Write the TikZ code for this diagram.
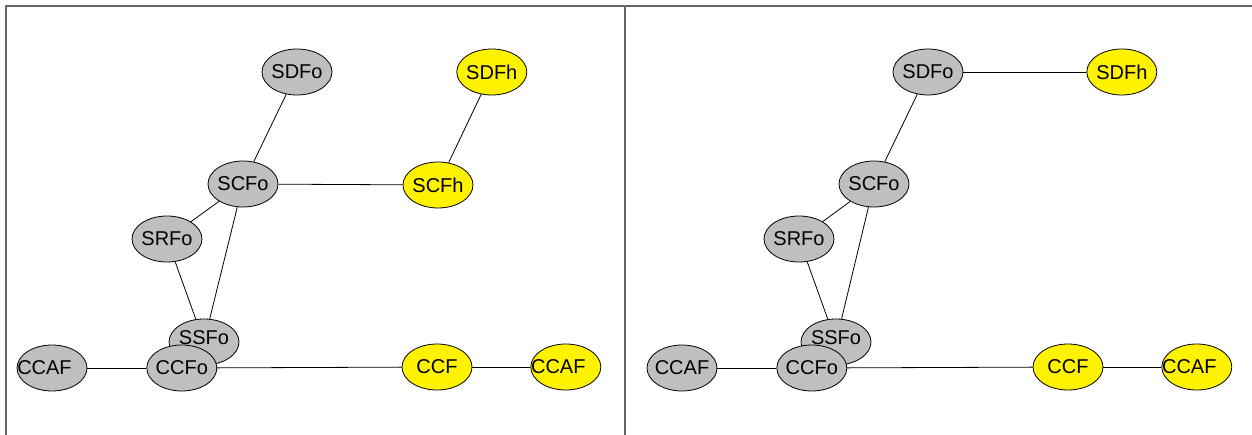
\documentclass[tikz,border=0pt]{standalone}
\usepackage{fontspec}
\setmainfont{Liberation Sans}
\usetikzlibrary{positioning,shapes.geometric}

\begin{document}
\begin{tikzpicture}
    [ x = 1pt, y = -1pt
    , state/.style =
      { draw, ellipse, line width=.8pt, minimum width=70pt, minimum height=46pt
      , inner xsep=-8pt, inner ysep=0pt, font=\fontsize{20}{20}\selectfont }
    , other/.style =
      { state, fill=lightgray }
    , host/.style =
      { state, fill=yellow }
    , leftish/.style =
      { execute at begin node=\hspace*{-15pt} }
    , raised/.style =
      { text depth=8pt }
    , edge/.style =
      { line width=.8pt }
    , frame/.style =
      { draw=black!60, line width=1.6pt }
    ]
    \useasboundingbox (0,0) rectangle (1252,435);
    \draw [frame] (6,435) |- (1252,6);
    \draw [frame] (625,6) -- (625,435);

    % left panel
    \node [other] (sdfoL) at (297,72) {SDFo};
    \node [host] (sdfhL) [right=124pt of sdfoL] {SDFh};
    \node [other] (scfoL) at (243,184) {SCFo};
    \node [host] (scfhL) at (438,185) {SCFh};
    \node [other] (srfoL) at (167,239) {SRFo};
    \node [other,raised] (ssfoL) at (204,342) {SSFo};
    \node [other,leftish] (ccafL) at (52,368) {CCAF};
    \node [other] (ccfoL) [right=59pt of ccafL] {CCFo};
    \node [host] (ccfL) at (437,367) {CCF};
    \node [host,leftish] (ccafhL) [right=58pt of ccfL] {CCAF};

    \draw [edge] (sdfoL) -- (scfoL);
    \draw [edge] (sdfhL) -- (scfhL);
    \draw [edge] (scfoL) -- (scfhL);
    \draw [edge] (scfoL) -- (srfoL);
    \draw [edge] (scfoL) -- (ssfoL);
    \draw [edge] (srfoL) -- (ssfoL);
    \draw [edge] (ccafL) -- (ccfoL);
    \draw [edge] (ccfoL) -- (ccfL);
    \draw [edge] (ccfL) -- (ccafhL);

    % right panel
    \node [other] (sdfoR) at (928,72) {SDFo};
    \node [host] (sdfhR) [right=123pt of sdfoR] {SDFh};
    \node [other] (scfoR) at (874,184) {SCFo};
    \node [other] (srfoR) at (799,239) {SRFo};
    \node [other,raised] (ssfoR) at (836,342) {SSFo};
    \node [other] (ccafR) at (682,368) {CCAF};
    \node [other] (ccfoR) [right=59pt of ccafR] {CCFo};
    \node [host] (ccfR) at (1068,367) {CCF};
    \node [host,leftish] (ccafhR) [right=58pt of ccfR] {CCAF};

    \draw [edge] (sdfoR) -- (sdfhR);
    \draw [edge] (sdfoR) -- (scfoR);
    \draw [edge] (scfoR) -- (srfoR);
    \draw [edge] (scfoR) -- (ssfoR);
    \draw [edge] (srfoR) -- (ssfoR);
    \draw [edge] (ccafR) -- (ccfoR);
    \draw [edge] (ccfoR) -- (ccfR);
    \draw [edge] (ccfR) -- (ccafhR);
\end{tikzpicture}
\end{document}
